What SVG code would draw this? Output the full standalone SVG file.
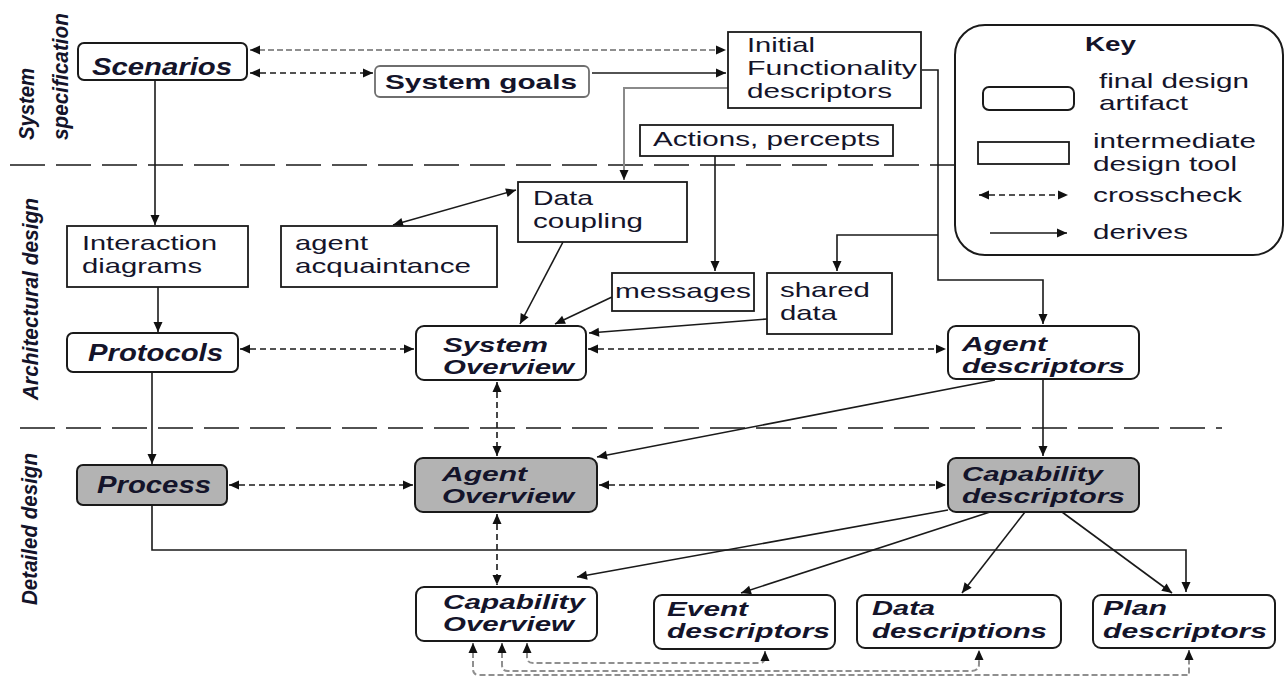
<svg xmlns="http://www.w3.org/2000/svg" width="1287" height="677" viewBox="0 0 1287 677">
  <style>
    .bg { fill: #ffffff; }
    .art { fill: #ffffff; stroke: #1a1a1a; stroke-width: 2; }
    .art.grey { fill: #b3b3b3; }
    .tool { fill: #ffffff; stroke: #1a1a1a; stroke-width: 1.8; }
    .lbl { font-family: "Liberation Sans", Arial, sans-serif; font-size: 21px; fill: #14142a; }
    .bi { font-weight: bold; font-style: italic; }
    .big { font-size: 23px; }
    .b { font-weight: bold; }
    .phase { font-family: "Liberation Sans", Arial, sans-serif; font-size: 22px; font-weight: bold; font-style: italic; fill: #14142a; }
    .div { fill: none; stroke: #1a1a1a; stroke-width: 1.6; stroke-dasharray: 35 11; }
    .derive { fill: none; stroke: #1a1a1a; stroke-width: 1.6; marker-end: url(#ah); }
    .derive2 { fill: none; stroke: #1a1a1a; stroke-width: 1.4; marker-start: url(#ah); marker-end: url(#ah); }
    .gderive { fill: none; stroke: #8a8a8a; stroke-width: 2; marker-end: url(#ah); }
    .check { fill: none; stroke: #1a1a1a; stroke-width: 1.6; stroke-dasharray: 6 4; marker-start: url(#ah); marker-end: url(#ah); }
    .gcheck { fill: none; stroke: #8f8f8f; stroke-width: 2; stroke-dasharray: 6 3; marker-start: url(#ah); marker-end: url(#ah); }
  </style>
  <defs>
    <marker id="ah" viewBox="0 0 10 10" refX="10" refY="5" markerWidth="11" markerHeight="10" markerUnits="userSpaceOnUse" orient="auto-start-reverse">
      <path d="M0,0.5 L10,5 L0,9.5 z" fill="#111"/>
    </marker>
  </defs>

  <rect class="bg" x="0" y="0" width="1287" height="677"/>

  <!-- phase labels -->
  <g id="phases">
    <text class="phase" transform="translate(34,140) rotate(-90)" textLength="72" lengthAdjust="spacingAndGlyphs">System</text>
    <text class="phase" transform="translate(68,140) rotate(-90)" textLength="127" lengthAdjust="spacingAndGlyphs">specification</text>
    <text class="phase" transform="translate(38,400) rotate(-90)" textLength="202" lengthAdjust="spacingAndGlyphs">Architectural design</text>
    <text class="phase" transform="translate(37,605) rotate(-90)" textLength="152" lengthAdjust="spacingAndGlyphs">Detailed design</text>
  </g>

  <!-- phase dividers -->
  <g id="dividers">
    <line class="div" x1="10" y1="165" x2="955" y2="165"/>
    <line class="div" x1="20" y1="428" x2="1222" y2="428"/>
  </g>

  <!-- connectors -->
  <g id="connectors">
    <!-- crosschecks -->
    <line class="gcheck" x1="250" y1="50" x2="726" y2="50"/>
    <line class="check" x1="250" y1="73" x2="373" y2="73"/>
    <line class="check" x1="240" y1="349" x2="414" y2="349"/>
    <line class="check" x1="588" y1="349" x2="946" y2="349"/>
    <line class="check" x1="497" y1="382" x2="497" y2="456"/>
    <line class="check" x1="229" y1="485" x2="413" y2="485"/>
    <line class="check" x1="599" y1="485" x2="946" y2="485"/>
    <line class="check" x1="497" y1="514" x2="497" y2="585"/>
    <path class="gcheck" d="M527,643 V657 Q527,663 533,663 H759 Q765,663 765,657 V651"/>
    <path class="gcheck" d="M502,643 V665 Q502,671 508,671 H971 Q979,671 979,664 V650"/>
    <path class="gcheck" d="M473,643 V669 Q473,675 479,675 H1189 V650"/>

    <!-- derivations -->
    <line class="derive" x1="592" y1="73" x2="726" y2="73"/>
    <path class="gderive" d="M728,88 H624 V180"/>
    <line class="derive" x1="155" y1="81" x2="155" y2="225"/>
    <line class="derive" x1="158" y1="287" x2="158" y2="332"/>
    <line class="derive" x1="152" y1="372" x2="152" y2="464"/>
    <line class="derive2" x1="393" y1="225" x2="516" y2="190"/>
    <line class="derive" x1="715" y1="156" x2="715" y2="271"/>
    <path class="derive" d="M922,70 H938 V280 H1043 V324"/>
    <path class="derive" d="M938,235 H837 V271"/>
    <line class="derive" x1="563" y1="242" x2="520" y2="324"/>
    <line class="derive" x1="612" y1="297" x2="555" y2="324"/>
    <line class="derive" x1="767" y1="319" x2="589" y2="333"/>
    <line class="derive" x1="995" y1="380" x2="597" y2="457"/>
    <line class="derive" x1="1043" y1="379" x2="1043" y2="456"/>
    <path class="derive" d="M152,505 V550 H1186 V592"/>
    <line class="derive" x1="948" y1="510" x2="577" y2="577"/>
    <line class="derive" x1="990" y1="512" x2="741" y2="593"/>
    <line class="derive" x1="1025" y1="512" x2="962" y2="593"/>
    <line class="derive" x1="1062" y1="512" x2="1172" y2="593"/>
  </g>

  <!-- system specification -->
  <g id="scenarios">
    <rect class="art" x="78" y="43" width="169" height="37" rx="6"/>
    <text class="lbl bi big" x="92" y="75" textLength="140" lengthAdjust="spacingAndGlyphs">Scenarios</text>
  </g>
  <g id="system-goals">
    <rect x="375" y="66" width="214" height="31" rx="5" fill="#ffffff" stroke="#6e6e6e" stroke-width="1.8"/>
    <text class="lbl b" x="385" y="89" textLength="192" lengthAdjust="spacingAndGlyphs">System goals</text>
  </g>
  <g id="initial-functionality">
    <rect class="tool" x="728" y="32" width="193" height="76"/>
    <text class="lbl" x="747" y="52" textLength="68" lengthAdjust="spacingAndGlyphs">Initial</text>
    <text class="lbl" x="747" y="75" textLength="170" lengthAdjust="spacingAndGlyphs">Functionality</text>
    <text class="lbl" x="747" y="98" textLength="145" lengthAdjust="spacingAndGlyphs">descriptors</text>
  </g>
  <g id="actions-percepts">
    <rect class="tool" x="640" y="125" width="253" height="31"/>
    <text class="lbl" x="653" y="146" textLength="227" lengthAdjust="spacingAndGlyphs">Actions, percepts</text>
  </g>

  <!-- architectural design -->
  <g id="interaction-diagrams">
    <rect class="tool" x="67" y="226" width="181" height="61"/>
    <text class="lbl" x="82" y="250" textLength="135" lengthAdjust="spacingAndGlyphs">Interaction</text>
    <text class="lbl" x="82" y="273" textLength="120" lengthAdjust="spacingAndGlyphs">diagrams</text>
  </g>
  <g id="agent-acquaintance">
    <rect class="tool" x="281" y="226" width="216" height="61"/>
    <text class="lbl" x="295" y="250" textLength="73" lengthAdjust="spacingAndGlyphs">agent</text>
    <text class="lbl" x="295" y="273" textLength="176" lengthAdjust="spacingAndGlyphs">acquaintance</text>
  </g>
  <g id="data-coupling">
    <rect class="tool" x="518" y="182" width="169" height="60"/>
    <text class="lbl" x="533" y="205" textLength="60" lengthAdjust="spacingAndGlyphs">Data</text>
    <text class="lbl" x="533" y="228" textLength="110" lengthAdjust="spacingAndGlyphs">coupling</text>
  </g>
  <g id="messages">
    <rect class="tool" x="612" y="273" width="142" height="38"/>
    <text class="lbl" x="615" y="298" textLength="136" lengthAdjust="spacingAndGlyphs">messages</text>
  </g>
  <g id="shared-data">
    <rect class="tool" x="767" y="273" width="125" height="61"/>
    <text class="lbl" x="780" y="297" textLength="90" lengthAdjust="spacingAndGlyphs">shared</text>
    <text class="lbl" x="780" y="320" textLength="57" lengthAdjust="spacingAndGlyphs">data</text>
  </g>
  <g id="protocols">
    <rect class="art" x="67" y="333" width="171" height="39" rx="6"/>
    <text class="lbl bi big" x="88" y="361" textLength="135" lengthAdjust="spacingAndGlyphs">Protocols</text>
  </g>
  <g id="system-overview">
    <rect class="art" x="416" y="326" width="170" height="54" rx="8"/>
    <text class="lbl bi" x="443" y="352" textLength="105" lengthAdjust="spacingAndGlyphs">System</text>
    <text class="lbl bi" x="443" y="374" textLength="131" lengthAdjust="spacingAndGlyphs">Overview</text>
  </g>
  <g id="agent-descriptors">
    <rect class="art" x="948" y="326" width="191" height="53" rx="8"/>
    <text class="lbl bi" x="962" y="351" textLength="85" lengthAdjust="spacingAndGlyphs">Agent</text>
    <text class="lbl bi" x="962" y="373" textLength="163" lengthAdjust="spacingAndGlyphs">descriptors</text>
  </g>

  <!-- detailed design -->
  <g id="process">
    <rect class="art grey" x="77" y="465" width="150" height="40" rx="6"/>
    <text class="lbl bi big" x="97" y="493" textLength="114" lengthAdjust="spacingAndGlyphs">Process</text>
  </g>
  <g id="agent-overview">
    <rect class="art grey" x="415" y="458" width="182" height="54" rx="8"/>
    <text class="lbl bi" x="442" y="481" textLength="85" lengthAdjust="spacingAndGlyphs">Agent</text>
    <text class="lbl bi" x="442" y="503" textLength="132" lengthAdjust="spacingAndGlyphs">Overview</text>
  </g>
  <g id="capability-descriptors">
    <rect class="art grey" x="948" y="458" width="191" height="54" rx="8"/>
    <text class="lbl bi" x="962" y="481" textLength="141" lengthAdjust="spacingAndGlyphs">Capability</text>
    <text class="lbl bi" x="962" y="503" textLength="163" lengthAdjust="spacingAndGlyphs">descriptors</text>
  </g>
  <g id="capability-overview">
    <rect class="art" x="416" y="587" width="181" height="54" rx="8"/>
    <text class="lbl bi" x="443" y="609" textLength="142" lengthAdjust="spacingAndGlyphs">Capability</text>
    <text class="lbl bi" x="443" y="631" textLength="131" lengthAdjust="spacingAndGlyphs">Overview</text>
  </g>
  <g id="event-descriptors">
    <rect class="art" x="654" y="595" width="181" height="54" rx="8"/>
    <text class="lbl bi" x="667" y="616" textLength="81" lengthAdjust="spacingAndGlyphs">Event</text>
    <text class="lbl bi" x="667" y="638" textLength="163" lengthAdjust="spacingAndGlyphs">descriptors</text>
  </g>
  <g id="data-descriptions">
    <rect class="art" x="857" y="595" width="204" height="53" rx="8"/>
    <text class="lbl bi" x="872" y="615" textLength="63" lengthAdjust="spacingAndGlyphs">Data</text>
    <text class="lbl bi" x="872" y="638" textLength="175" lengthAdjust="spacingAndGlyphs">descriptions</text>
  </g>
  <g id="plan-descriptors">
    <rect class="art" x="1093" y="595" width="182" height="53" rx="8"/>
    <text class="lbl bi" x="1103" y="615" textLength="64" lengthAdjust="spacingAndGlyphs">Plan</text>
    <text class="lbl bi" x="1103" y="638" textLength="164" lengthAdjust="spacingAndGlyphs">descriptors</text>
  </g>

  <!-- legend -->
  <g id="key">
    <rect x="955" y="25" width="328" height="230" rx="30" fill="#ffffff" stroke="#1a1a1a" stroke-width="2"/>
    <text class="lbl b" x="1085" y="51" textLength="51" lengthAdjust="spacingAndGlyphs">Key</text>
    <rect class="art" x="983" y="87" width="91" height="23" rx="6"/>
    <text class="lbl" x="1099" y="88" textLength="150" lengthAdjust="spacingAndGlyphs">final design</text>
    <text class="lbl" x="1099" y="110" textLength="89" lengthAdjust="spacingAndGlyphs">artifact</text>
    <rect class="tool" x="978" y="142" width="91" height="22"/>
    <text class="lbl" x="1093" y="148" textLength="163" lengthAdjust="spacingAndGlyphs">intermediate</text>
    <text class="lbl" x="1093" y="171" textLength="144" lengthAdjust="spacingAndGlyphs">design tool</text>
    <line class="check" x1="979" y1="195" x2="1068" y2="195"/>
    <text class="lbl" x="1093" y="202" textLength="149" lengthAdjust="spacingAndGlyphs">crosscheck</text>
    <line class="derive" x1="990" y1="233" x2="1067" y2="233"/>
    <text class="lbl" x="1093" y="239" textLength="95" lengthAdjust="spacingAndGlyphs">derives</text>
  </g>
</svg>
